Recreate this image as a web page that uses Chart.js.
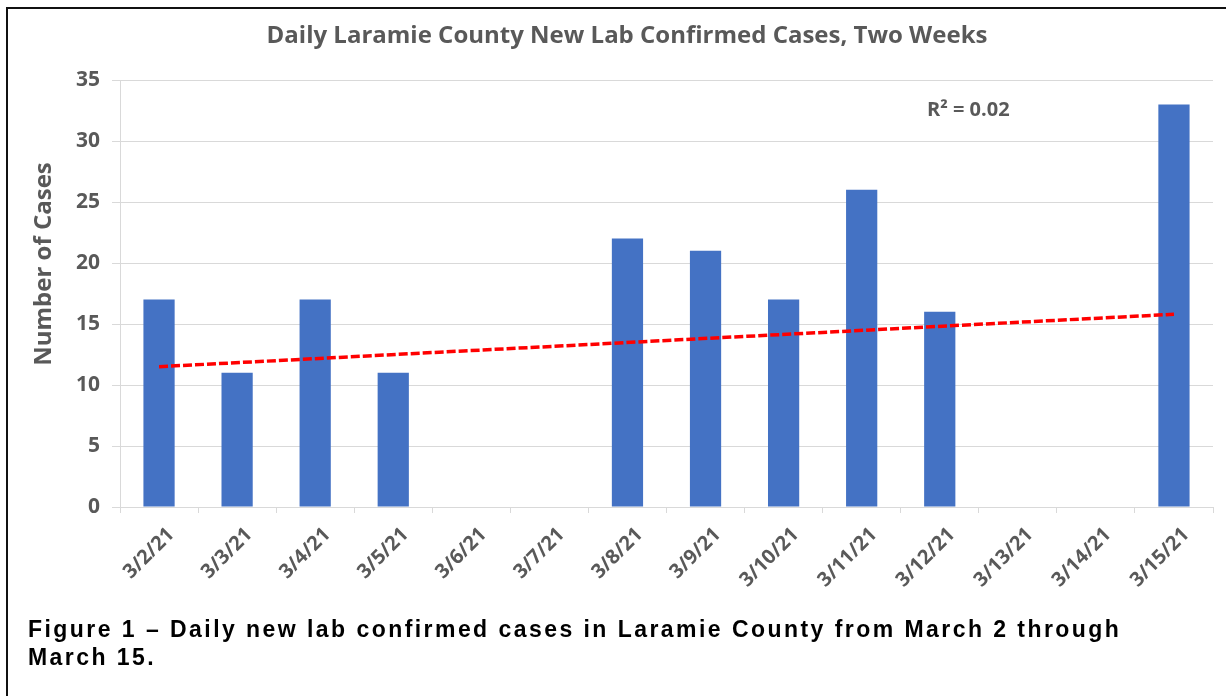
<!DOCTYPE html>
<html>
<head>
<meta charset="utf-8">
<script src="https://cdn.jsdelivr.net/npm/chart.js@4"></script>
<style>
  html, body { margin: 0; padding: 0; background: #fff; }
  body { width: 1226px; height: 696px; position: relative; overflow: hidden; }
  #frame { position: absolute; left: 6px; top: 7px; width: 1300px; height: 800px; border: 2px solid #111; }
  #chart { position: absolute; left: 0; top: 0; }
  #caption {
    position: absolute; left: 28px; top: 615px;
    font: bold 23px "Liberation Sans", Arial, sans-serif;
    letter-spacing: 2.45px; line-height: 28px; color: #000; white-space: nowrap;
  }
</style>
</head>
<body>
<div id="frame"></div>
<canvas id="chart" width="1226" height="696"></canvas>
<div id="caption">Figure 1 – Daily new lab confirmed cases in Laramie County from March 2 through<br>March 15.</div>
<script>
// Datos del gráfico
const fechas = ["3/2/21", "3/3/21", "3/4/21", "3/5/21", "3/6/21", "3/7/21", "3/8/21",
                "3/9/21", "3/10/21", "3/11/21", "3/12/21", "3/13/21", "3/14/21", "3/15/21"];
const casos = [17, 11, 17, 11, 0, 0, 22, 21, 17, 26, 16, 0, 0, 33];
// línea de tendencia (inicio y fin)
const tendencia = [11.5, null, null, null, null, null, null, null, null, null, null, null, null, 15.8];
const ticksY = [0, 5, 10, 15, 20, 25, 30, 35];

const titulo = "Daily Laramie County New Lab Confirmed Cases, Two Weeks";
const tituloY = "Number of Cases";
const etiquetaR2 = "R\u00B2 = 0.02";

const gris = "#595959";
const fuente = "'Open Sans', Lato, sans-serif";

// Textos extra: título, eje Y y R²
const textosExtra = {
  id: "textosExtra",
  afterDraw(chart) {
    const ctx = chart.ctx;
    ctx.save();
    ctx.fillStyle = gris;
    ctx.font = "bold 24px " + fuente;
    ctx.textAlign = "center";
    ctx.textBaseline = "alphabetic";
    ctx.fillText(titulo, 627, 43);

    ctx.font = "bold 20px " + fuente;
    ctx.textAlign = "left";
    ctx.fillText(etiquetaR2, 927, 116);

    ctx.translate(44, 264);
    ctx.rotate(-Math.PI / 2);
    ctx.font = "bold 24px " + fuente;
    ctx.textAlign = "center";
    ctx.textBaseline = "middle";
    ctx.fillText(tituloY, 0, 0);
    ctx.restore();
  }
};

new Chart(document.getElementById("chart"), {
  data: {
    labels: fechas,
    datasets: [
      {
        type: "line",
        data: tendencia,
        borderColor: "#FF0000",
        borderWidth: 3.5,
        borderDash: [9, 3],
        pointRadius: 0,
        spanGaps: true,
        order: 0
      },
      {
        type: "bar",
        data: casos,
        backgroundColor: "#4472C4",
        barPercentage: 0.4,
        categoryPercentage: 1.0,
        order: 1
      }
    ]
  },
  options: {
    responsive: false,
    animation: false,
    layout: { padding: { top: 80, right: 13, bottom: 0, left: 0 } },
    plugins: {
      legend: { display: false },
      tooltip: { enabled: false },
      title: { display: false }
    },
    scales: {
      x: {
        afterFit: (scale) => { scale.height = 189; },
        grid: { display: true, drawOnChartArea: false, offset: true, tickLength: 6, color: "#d9d9d9" },
        border: { display: true, color: "#d9d9d9", width: 1 },
        ticks: {
          autoSkip: false, minRotation: 45, maxRotation: 45, padding: 10, labelOffset: 12,
          color: gris, font: { family: fuente, size: 20, weight: "bold" }
        }
      },
      y: {
        min: 0, max: 35,
        afterFit: (scale) => { scale.width = 120; },
        afterBuildTicks: (scale) => { scale.ticks = ticksY.map(v => ({ value: v })); },
        grid: { color: "#d9d9d9", tickLength: 8 },
        border: { display: true, color: "#d9d9d9" },
        ticks: {
          padding: 12,
          color: gris, font: { family: fuente, size: 21, weight: "bold" }
        }
      }
    }
  },
  plugins: [textosExtra]
});
</script>
</body>
</html>
